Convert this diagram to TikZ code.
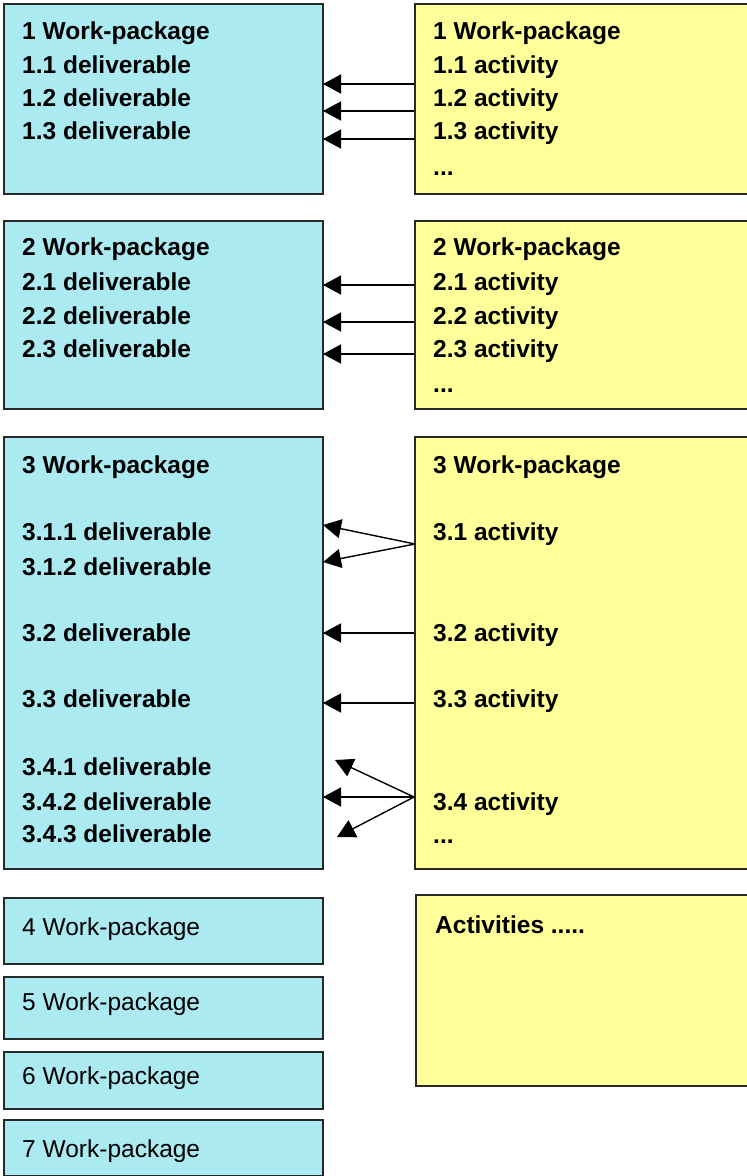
\documentclass[tikz,border=0pt]{standalone}
\usepackage{fontspec}
\setmainfont{Liberation Sans}
\usetikzlibrary{arrows.meta}
\definecolor{wpcyan}{RGB}{172,234,242}
\definecolor{actyellow}{RGB}{255,255,153}
\definecolor{bordergray}{RGB}{40,40,40}
\begin{document}
\begin{tikzpicture}[x=1pt,y=-1pt,
  wpbox/.style={draw=bordergray, line width=2pt, fill=wpcyan, anchor=north west, inner sep=0pt, minimum width=319pt},
  actbox/.style={draw=bordergray, line width=2pt, fill=actyellow, anchor=north west, inner sep=0pt, minimum width=400pt},
  lbl/.style={anchor=base west, inner sep=0pt, font=\fontsize{24.5}{30}\selectfont\bfseries},
  lblr/.style={anchor=base west, inner sep=0pt, font=\fontsize{24.5}{30}\selectfont},
  arr/.style={-{Triangle[length=18pt,width=19pt]}, line width=1.4pt, black}]
\useasboundingbox (0,0) rectangle (747,1176);
\clip (0,0) rectangle (747,1176);

% boxes
\node[wpbox, minimum height=190pt] (L1) at (3,3) {};
\node[actbox, minimum height=190pt] (R1) at (414,3) {};
\node[wpbox, minimum height=188pt] (L2) at (3,220) {};
\node[actbox, minimum height=188pt] (R2) at (414,220) {};
\node[wpbox, minimum height=432pt] (L3) at (3,436) {};
\node[actbox, minimum height=432pt] (R3) at (414,436) {};
\node[wpbox, minimum height=66pt] (L4) at (3,897) {};
\node[wpbox, minimum height=62pt] (L5) at (3,976) {};
\node[wpbox, minimum height=57pt] (L6) at (3,1051) {};
\node[wpbox, minimum height=56pt] (L7) at (3,1119) {};
\node[actbox, minimum height=191pt] (RA) at (415,894) {};

% texts box 1
\node[lbl] (l1h) at (22,39) {1 Work-package};
\node[lbl] (l11) at (22,73) {1.1 deliverable};
\node[lbl] (l12) at (22,106) {1.2 deliverable};
\node[lbl] (l13) at (22,139) {1.3 deliverable};
\node[lbl] (r1h) at (433,39) {1 Work-package};
\node[lbl] (r11) at (433,73) {1.1 activity};
\node[lbl] (r12) at (433,106) {1.2 activity};
\node[lbl] (r13) at (433,139) {1.3 activity};
\node[lbl] (r1d) at (433,175) {...};

% texts box 2
\node[lbl] (l2h) at (22,255) {2 Work-package};
\node[lbl] (l21) at (22,290) {2.1 deliverable};
\node[lbl] (l22) at (22,324) {2.2 deliverable};
\node[lbl] (l23) at (22,357) {2.3 deliverable};
\node[lbl] (r2h) at (433,255) {2 Work-package};
\node[lbl] (r21) at (433,290) {2.1 activity};
\node[lbl] (r22) at (433,324) {2.2 activity};
\node[lbl] (r23) at (433,357) {2.3 activity};
\node[lbl] (r2d) at (433,392) {...};

% texts box 3
\node[lbl] (l3h) at (22,473) {3 Work-package};
\node[lbl] (l311) at (22,540) {3.1.1 deliverable};
\node[lbl] (l312) at (22,575) {3.1.2 deliverable};
\node[lbl] (l32) at (22,641) {3.2 deliverable};
\node[lbl] (l33) at (22,707) {3.3 deliverable};
\node[lbl] (l341) at (22,775) {3.4.1 deliverable};
\node[lbl] (l342) at (22,810) {3.4.2 deliverable};
\node[lbl] (l343) at (22,842) {3.4.3 deliverable};
\node[lbl] (r3h) at (433,473) {3 Work-package};
\node[lbl] (r31) at (433,540) {3.1 activity};
\node[lbl] (r32) at (433,641) {3.2 activity};
\node[lbl] (r33) at (433,707) {3.3 activity};
\node[lbl] (r34) at (433,810) {3.4 activity};
\node[lbl] (r3d) at (433,843) {...};

% lower boxes
\node[lblr] (l4h) at (22,935) {4 Work-package};
\node[lblr] (l5h) at (22,1010) {5 Work-package};
\node[lblr] (l6h) at (22,1084) {6 Work-package};
\node[lblr] (l7h) at (22,1157) {7 Work-package};
\node[lbl] (rah) at (435,933) {Activities .....};

% arrow end points
\coordinate (s11) at (414,84);  \coordinate (t11) at (323,84);
\coordinate (s12) at (414,111); \coordinate (t12) at (323,111);
\coordinate (s13) at (414,139); \coordinate (t13) at (323,139);
\coordinate (s21) at (414,285); \coordinate (t21) at (323,285);
\coordinate (s22) at (414,322); \coordinate (t22) at (323,322);
\coordinate (s23) at (414,354); \coordinate (t23) at (323,354);
\coordinate (s31) at (415,544); \coordinate (t311) at (323,525); \coordinate (t312) at (323,562);
\coordinate (s32) at (414,633); \coordinate (t32) at (323,633);
\coordinate (s33) at (414,703); \coordinate (t33) at (323,703);
\coordinate (s34) at (414,797); \coordinate (t341) at (335,760); \coordinate (t342) at (323,797); \coordinate (t343) at (337,837);

\draw[arr] (s11) -- (t11);
\draw[arr] (s12) -- (t12);
\draw[arr] (s13) -- (t13);
\draw[arr] (s21) -- (t21);
\draw[arr] (s22) -- (t22);
\draw[arr] (s23) -- (t23);
\draw[arr] (s31) -- (t311);
\draw[arr] (s31) -- (t312);
\draw[arr] (s32) -- (t32);
\draw[arr] (s33) -- (t33);
\draw[arr] (s34) -- (t341);
\draw[arr] (s34) -- (t342);
\draw[arr] (s34) -- (t343);
\end{tikzpicture}
\end{document}
